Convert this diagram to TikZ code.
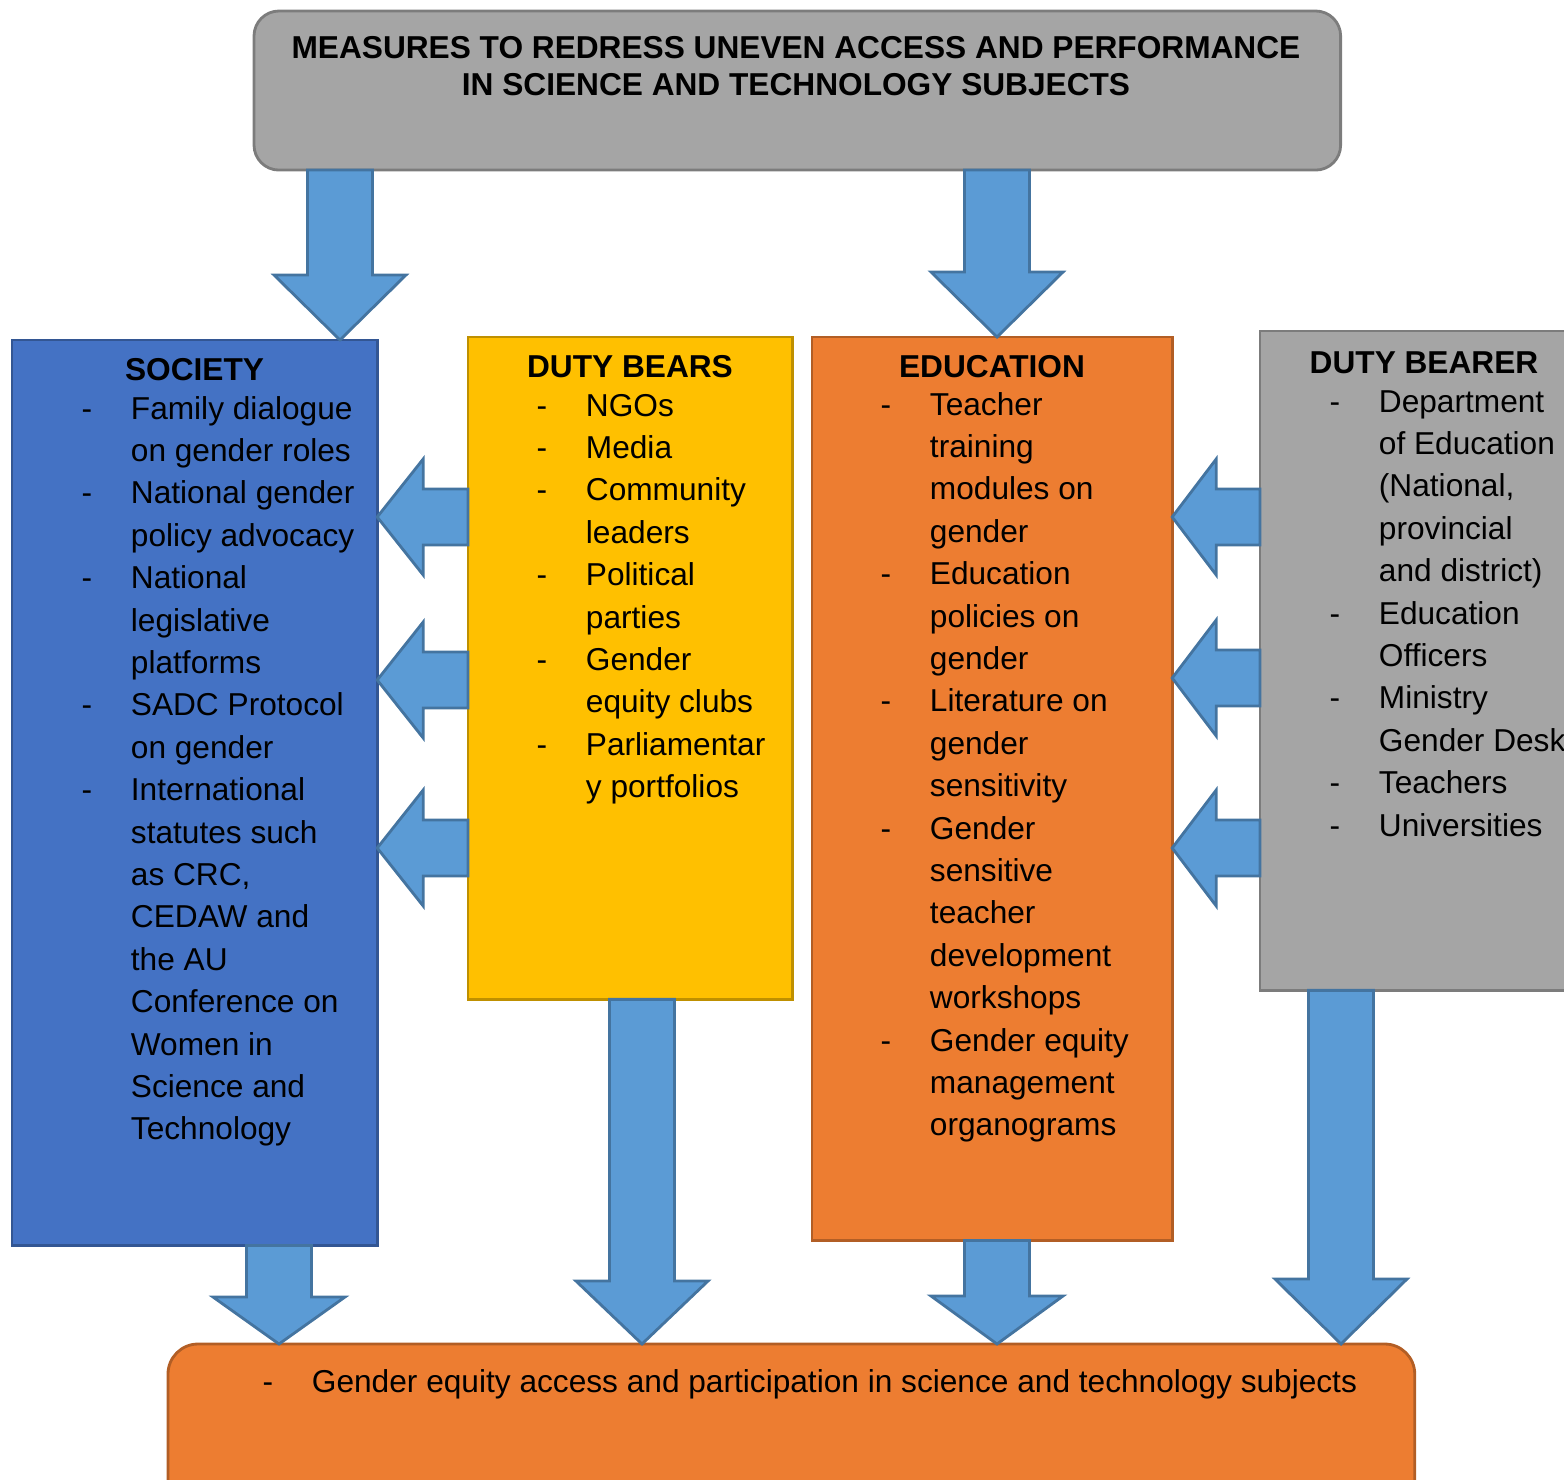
\documentclass[tikz,border=0pt]{standalone}
\usepackage{fontspec}
\setmainfont{Liberation Sans}
\usetikzlibrary{calc}
\definecolor{sky}{RGB}{91,155,213}
\definecolor{royal}{RGB}{68,114,196}
\definecolor{gold}{RGB}{255,192,0}
\definecolor{tangerine}{RGB}{237,125,49}
\definecolor{slate}{RGB}{165,165,165}
\tikzset{
  panel/.style={fill=#1,draw=#1!75!black,line width=0.8pt,inner sep=0pt,
    outer sep=0pt,anchor=north west},
  panel/.default=slate,
  fat/.style={fill=sky,draw=sky!75!black,line width=0.8pt,line join=miter},
  heading/.style={font=\fontsize{9}{10.5}\selectfont\bfseries,inner sep=0pt,align=center},
  list/.style={font=\fontsize{9}{12.06}\selectfont,inner sep=0pt,anchor=base west},
}
% block arrows: #1 start, #2 tip, #3 head length
\newcommand{\fatdown}[3]{%
  \draw[fat] ($(#1)+(-32.5,0)$) -- ($(#2)+(-32.5,-#3)$) -- ($(#2)+(-66,-#3)$)
    -- (#2) -- ($(#2)+(66,-#3)$) -- ($(#2)+(32.5,-#3)$) -- ($(#1)+(32.5,0)$) -- cycle;}
\newcommand{\fatleft}[3]{%
  \draw[fat] ($(#1)+(0,-28)$) -- ($(#2)+(#3,-28)$) -- ($(#2)+(#3,-58)$)
    -- (#2) -- ($(#2)+(#3,58)$) -- ($(#2)+(#3,28)$) -- ($(#1)+(0,28)$) -- cycle;}

\begin{document}
\begin{tikzpicture}[x=0.01cm,y=-0.01cm]
  \clip (0,0) rectangle (1564,1479);

  % boxes
  \node[panel=slate,rounded corners=0.25cm,minimum width=10.86cm,minimum height=1.59cm] (title) at (254,11) {};
  \node[panel=royal,minimum width=3.65cm,minimum height=9.05cm] (society) at (12,340) {};
  \node[panel=gold,minimum width=3.24cm,minimum height=6.62cm] (bears) at (468,337) {};
  \node[panel=tangerine,minimum width=3.60cm,minimum height=9.03cm] (education) at (812,337) {};
  \node[panel=slate,minimum width=3.28cm,minimum height=6.59cm] (bearer) at (1260,331) {};
  \node[panel=tangerine,rounded corners=0.3cm,minimum width=12.46cm,minimum height=2cm] (outcome) at (168,1344) {};

  % texts
  \node[heading] (titletext) at (796,66.5) {MEASURES TO REDRESS UNEVEN ACCESS AND PERFORMANCE\\IN SCIENCE AND TECHNOLOGY SUBJECTS};

  \node[heading,anchor=base] (societyhead) at (194.5,380) {SOCIETY};
  \node[list] (societylist) at (81,419) {\begin{tabular}[t]{@{}p{14pt}@{}l@{}}
    - & Family dialogue\\
      & on gender roles\\
    - & National gender\\
      & policy advocacy\\
    - & National\\
      & legislative\\
      & platforms\\
    - & SADC Protocol\\
      & on gender\\
    - & International\\
      & statutes such\\
      & as CRC,\\
      & CEDAW and\\
      & the AU\\
      & Conference on\\
      & Women in\\
      & Science and\\
      & Technology
  \end{tabular}};

  \node[heading,anchor=base] (bearshead) at (630,377) {DUTY BEARS};
  \node[list] (bearslist) at (536,416) {\begin{tabular}[t]{@{}p{14pt}@{}l@{}}
    - & NGOs\\
    - & Media\\
    - & Community\\
      & leaders\\
    - & Political\\
      & parties\\
    - & Gender\\
      & equity clubs\\
    - & Parliamentar\\
      & y portfolios
  \end{tabular}};

  \node[heading,anchor=base] (educationhead) at (992,377) {EDUCATION};
  \node[list] (educationlist) at (880,415) {\begin{tabular}[t]{@{}p{14pt}@{}l@{}}
    - & Teacher\\
      & training\\
      & modules on\\
      & gender\\
    - & Education\\
      & policies on\\
      & gender\\
    - & Literature on\\
      & gender\\
      & sensitivity\\
    - & Gender\\
      & sensitive\\
      & teacher\\
      & development\\
      & workshops\\
    - & Gender equity\\
      & management\\
      & organograms
  \end{tabular}};

  \node[heading,anchor=base] (bearerhead) at (1424,373) {DUTY BEARER};
  \node[list] (bearerlist) at (1329,412) {\begin{tabular}[t]{@{}p{14pt}@{}l@{}}
    - & Department\\
      & of Education\\
      & (National,\\
      & provincial\\
      & and district)\\
    - & Education\\
      & Officers\\
    - & Ministry\\
      & Gender Desk\\
    - & Teachers\\
    - & Universities
  \end{tabular}};

  \node[list] (outcomelist) at (262,1392) {\begin{tabular}[t]{@{}p{14pt}@{}l@{}}
    - & Gender equity access and participation in science and technology subjects
  \end{tabular}};

  % arrows
  \fatdown{title.south -| 340,0}{society.north -| 340,0}{65}
  \fatdown{title.south -| 997,0}{education.north -| 997,0}{65}
  \foreach \y in {517,680,848}
    \fatleft{bears.west |- 0,\y}{society.east |- 0,\y}{46};
  \foreach \y in {517,678,848}
    \fatleft{bearer.west |- 0,\y}{education.east |- 0,\y}{44};
  \fatdown{society.south -| 279,0}{outcome.north -| 279,0}{47}
  \fatdown{bears.south -| 642,0}{outcome.north -| 642,0}{63}
  \fatdown{education.south -| 997,0}{outcome.north -| 997,0}{48}
  \fatdown{bearer.south -| 1341,0}{outcome.north -| 1341,0}{65}
\end{tikzpicture}
\end{document}
